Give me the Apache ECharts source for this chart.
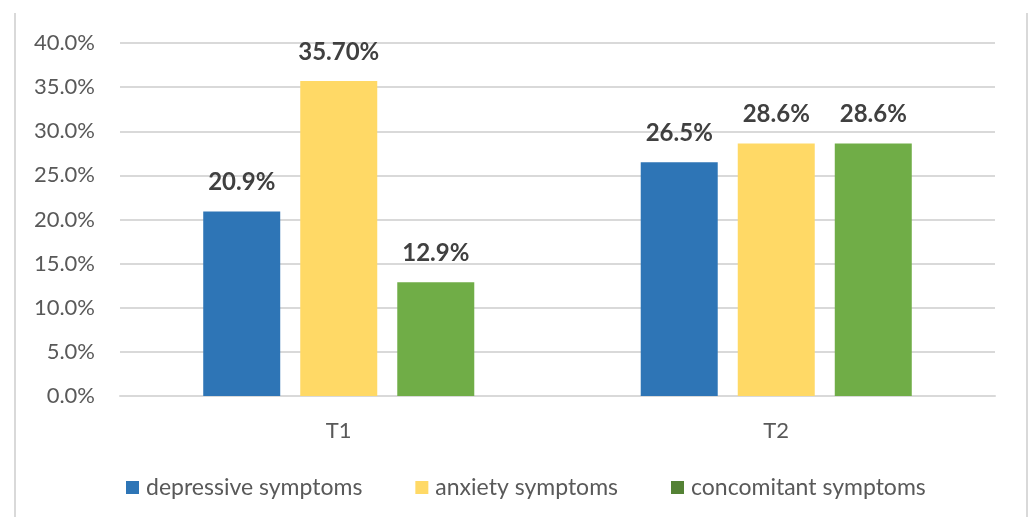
<!DOCTYPE html>
<html><head><meta charset="utf-8">
<script src="https://cdn.jsdelivr.net/npm/echarts@6/dist/echarts.min.js"></script>
<style>html,body{margin:0;padding:0;background:#fff}#c{width:1029px;height:517px}</style>
</head><body><div id="c"></div>
<script>
const categories = ["T1", "T2"];
const seriesNames = ["depressive symptoms", "anxiety symptoms", "concomitant symptoms"];
const depressive = [20.9, 26.5];
const anxiety = [35.7, 28.6];
const concomitant = [12.9, 28.6];
const labelTexts = [["20.9%", "26.5%"], ["35.70%", "28.6%"], ["12.9%", "28.6%"]];
const colors = ["#2E75B6", "#FFD966", "#70AD47"];
const legendColors = ["#2E75B6", "#FFD966", "#548235"];
const values = [depressive, anxiety, concomitant];
const font = "Lato, 'Open Sans', sans-serif";

const chart = echarts.init(document.getElementById('c'));
chart.setOption({
  animation: false,
  graphic: [
    {type: 'line', shape: {x1: 15, y1: 13, x2: 15, y2: 517}, style: {stroke: '#d9d9d9', lineWidth: 2}},
    {type: 'line', shape: {x1: 1027, y1: 13, x2: 1027, y2: 517}, style: {stroke: '#d9d9d9', lineWidth: 2}}
  ],
  grid: {left: 120, right: 34, top: 43, bottom: 121},
  legend: {
    top: 471, left: 121, itemWidth: 13, itemHeight: 13, itemGap: 53, icon: 'rect',
    textStyle: {fontFamily: font, fontSize: 23, color: '#595959', padding: [0, 0, 0, 2]},
    data: seriesNames.map((n, i) => ({name: n, itemStyle: {color: legendColors[i]}}))
  },
  xAxis: {
    type: 'category', data: categories,
    axisLine: {lineStyle: {color: '#d9d9d9', width: 2}},
    axisTick: {show: false},
    axisLabel: {fontFamily: font, fontSize: 22, color: '#595959', margin: 24}
  },
  yAxis: {
    type: 'value', min: 0, max: 40, interval: 5,
    axisLine: {show: false}, axisTick: {show: false},
    splitLine: {lineStyle: {color: '#d9d9d9', width: 2}},
    axisLabel: {fontFamily: font, fontSize: 22, color: '#595959', margin: 25,
      formatter: v => v.toFixed(1) + '%'}
  },
  series: seriesNames.map((n, i) => ({
    name: n, type: 'bar', data: values[i],
    barWidth: 77, barGap: '26%',
    itemStyle: {color: colors[i]},
    label: {show: true, position: 'top', distance: 17, fontFamily: font, fontSize: 24, fontWeight: 'bold', color: '#404040',
      formatter: p => labelTexts[i][p.dataIndex]}
  }))
});
</script></body></html>
